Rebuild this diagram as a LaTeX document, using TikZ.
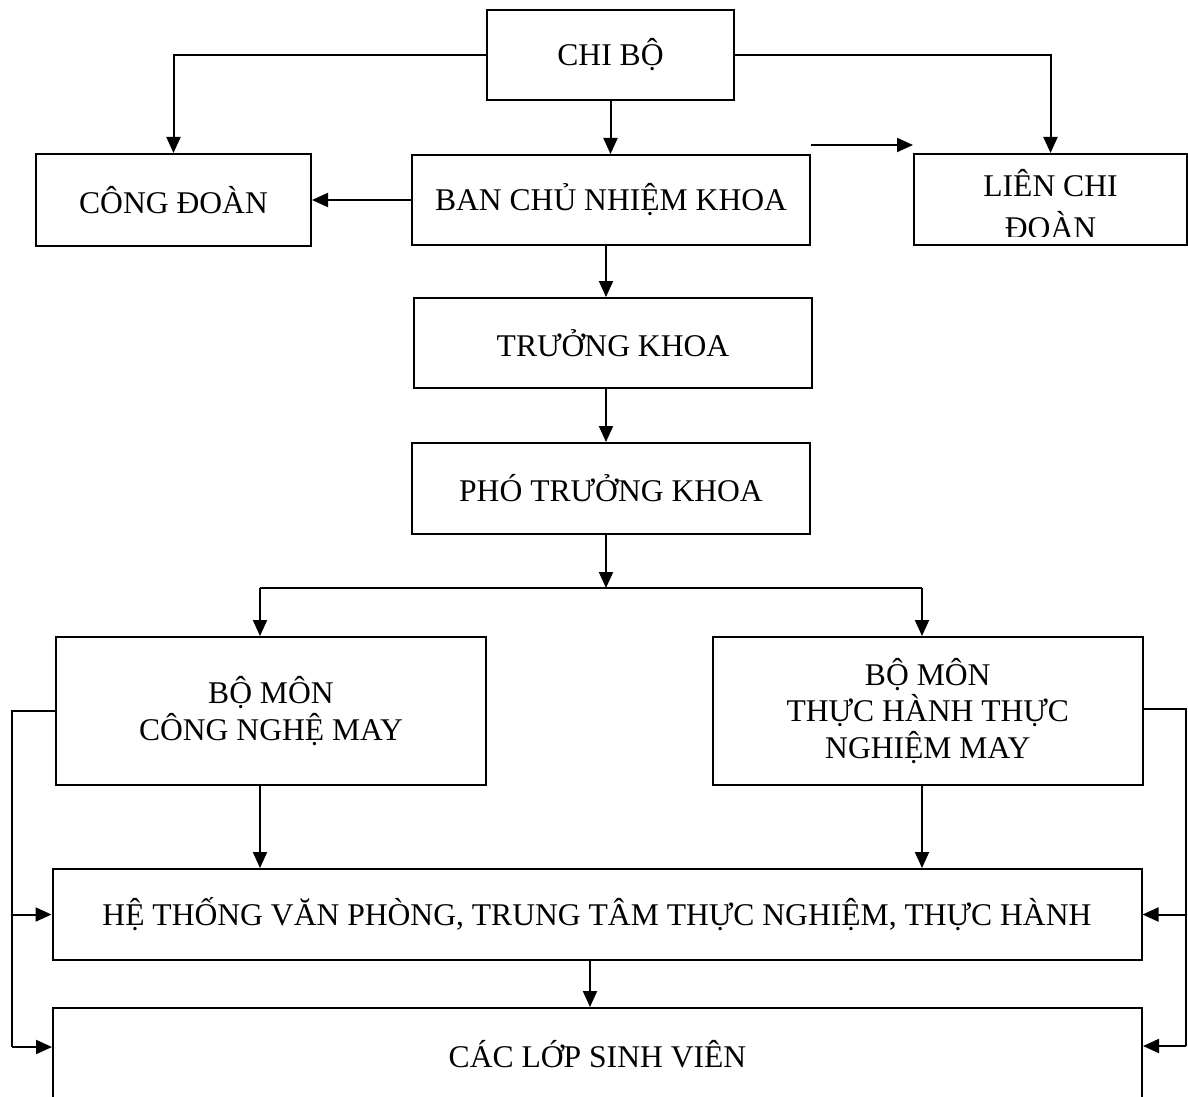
\documentclass[tikz,border=0pt]{standalone}
\usepackage{fontspec}
\setmainfont{Liberation Serif}
\usepackage{tikz}
\usetikzlibrary{arrows.meta, positioning}
\newcommand{\boxfont}{\fontsize{15.8}{18.3}\selectfont}
\tikzset{unitbox/.style={rectangle, draw=black, line width=1pt, inner sep=0pt, align=center, font=\boxfont},arrowline/.style={-{Triangle[length=8pt, width=7pt]}, line width=1pt}}

\begin{document}
\begin{tikzpicture}[
        x=0.5pt, y=-0.5pt,
        line join=miter,
        plainline/.style={line width=1pt},
    ]
        \useasboundingbox (0,0) rectangle (1188,1097);
        % Boxes
        \node[unitbox, minimum width=123.5pt, minimum height=45pt] (chibo) at (610.5,55) {CHI BỘ};
        \node[unitbox, minimum width=137.5pt, minimum height=46pt] (congdoan) at (173.5,200) {CÔNG ĐOÀN};
        \node[unitbox, minimum width=199pt, minimum height=45pt] (bancn) at (611,200) {BAN CHỦ NHIỆM KHOA};
        \node[unitbox, minimum width=136.5pt, minimum height=45.5pt] (lienchi) at (1050.5,199.5) {};
        \node[unitbox, minimum width=199pt, minimum height=45pt] (truongkhoa) at (613,343) {TRƯỞNG KHOA};
        \node[unitbox, minimum width=199pt, minimum height=45.5pt] (photk) at (611,488.5) {PHÓ TRƯỞNG KHOA};
        \node[unitbox, minimum width=215pt, minimum height=74pt] (bmcnm) at (271,711) {BỘ MÔN\\CÔNG NGHỆ MAY};
        \node[unitbox, minimum width=215.25pt, minimum height=74pt] (bmthtn) at (927.75,711) {BỘ MÔN\\THỰC HÀNH THỰC\\NGHIỆM MAY};
        \node[unitbox, minimum width=544.5pt, minimum height=45.5pt] (hethong) at (597,914.5) {HỆ THỐNG VĂN PHÒNG, TRUNG TÂM THỰC NGHIỆM, THỰC HÀNH};
        \node[unitbox, minimum width=544.5pt, minimum height=46pt] (caclop) at (597.5,1054) {CÁC LỚP SINH VIÊN};
        % Text of the narrow box, cut at its lower edge
        \begin{scope}
            \clip ([shift={(2,2)}]lienchi.north west) rectangle ([shift={(-2,-10)}]lienchi.south east);
            \node[font=\boxfont, anchor=base] (lienchitop) at (1050.5,196) {LIÊN CHI};
            \node[font=\boxfont, anchor=base] (lienchibot) at (1050.5,238) {ĐOÀN};
        \end{scope}
        % Helper points
        \coordinate (stray) at (811,145);
        \coordinate (split) at (606,588);
        \coordinate (splitl) at (260,588);
        \coordinate (splitr) at (922,588);
        \coordinate (lbus) at (12,711);
        \coordinate (lbot) at (12,1047);
        \coordinate (rbus) at (1186,709);
        \coordinate (rbot) at (1186,1046);
        % Arrows at the top
        \draw[arrowline] (chibo.west) -| (congdoan.north);
        \draw[arrowline] (chibo.east) -| (lienchi.north);
        \draw[arrowline] (chibo.south) -- (chibo.south |- bancn.north);
        \draw[arrowline] (stray) -- (stray -| lienchi.west);
        \draw[arrowline] (bancn.west) -- (congdoan.east);
        \draw[arrowline] (split |- bancn.south) -- (split |- truongkhoa.north);
        \draw[arrowline] (split |- truongkhoa.south) -- (split |- photk.north);
        \draw[arrowline] (split |- photk.south) -- (split);
        % Branch to the two departments
        \draw[plainline] (splitl) -- (splitr);
        \draw[arrowline] (splitl) -- (splitl |- bmcnm.north);
        \draw[arrowline] (splitr) -- (splitr |- bmthtn.north);
        \draw[arrowline] (splitl |- bmcnm.south) -- (splitl |- hethong.north);
        \draw[arrowline] (splitr |- bmthtn.south) -- (splitr |- hethong.north);
        \draw[arrowline] ([xshift=-3.5pt]hethong.south) -- ([xshift=-3.5pt]hethong.south |- caclop.north);
        % Side buses
        \draw[plainline] (bmcnm.west |- lbus) -- (lbus) -- (lbot);
        \draw[arrowline] (lbus |- hethong.west) -- (hethong.west);
        \draw[arrowline] (lbot) -- (lbot -| caclop.west);
        \draw[plainline] (bmthtn.east |- rbus) -- (rbus) -- (rbot);
        \draw[arrowline] (rbus |- hethong.east) -- (hethong.east);
        \draw[arrowline] (rbot) -- (rbot -| caclop.east);
    \end{tikzpicture}
\end{document}
